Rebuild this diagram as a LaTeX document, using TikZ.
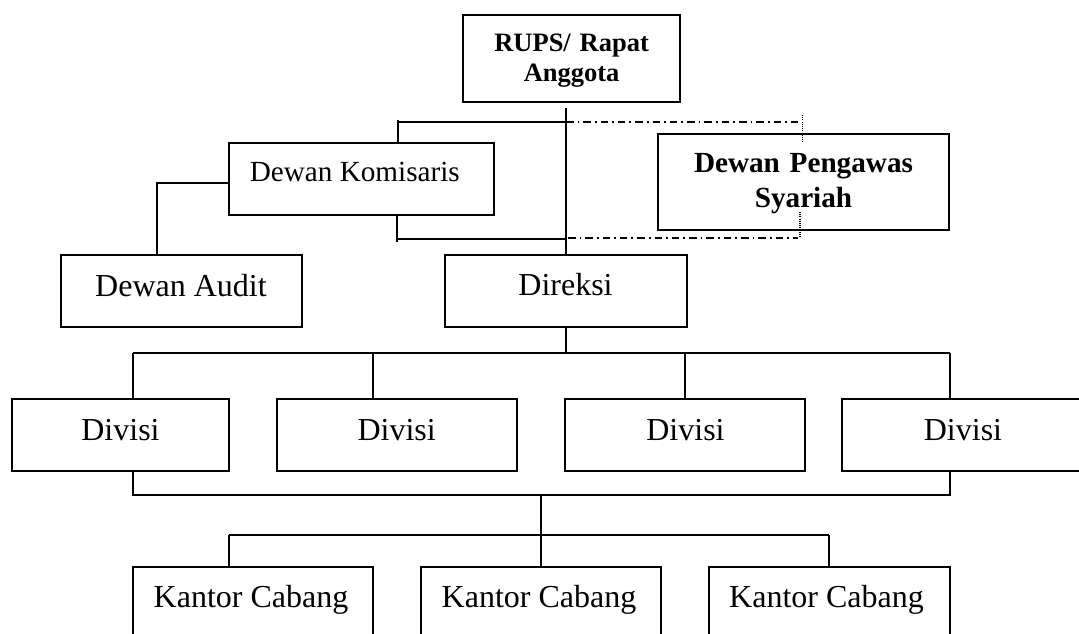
\documentclass[tikz,border=0pt]{standalone}
\usepackage{fontspec}
\setmainfont{Liberation Serif}
\begin{document}
\begin{tikzpicture}[x=1pt,y=-1pt,
  box/.style={draw=black,line width=2pt,rectangle,inner sep=0pt,outer sep=0pt},
  lbl/.style={anchor=base,inner sep=0pt,font=\fontsize{32}{38}\selectfont},
  conn/.style={draw=black,line width=2pt},
  dashdot/.style={draw=black,line width=1.3pt,dash pattern=on 7.5pt off 4pt on 1.8pt off 4pt},
  dotline/.style={draw=black,line width=1.2pt,dash pattern=on 1pt off 1.2pt}]
\fill[white] (0,0) rectangle (1079,634);
\clip (0,0) rectangle (1079,634);
% boxes
\node[box,minimum width=217pt,minimum height=87pt] (rups) at (571.5,58.5) {};
\node[box,minimum width=265pt,minimum height=72pt] (kom) at (361.5,179) {};
\node[box,minimum width=291pt,minimum height=96pt] (dps) at (803.5,182) {};
\node[box,minimum width=241pt,minimum height=72pt] (audit) at (181.5,291) {};
\node[box,minimum width=242pt,minimum height=72pt] (dir) at (566,291) {};
\node[box,minimum width=217pt,minimum height=72pt] (div1) at (120.5,435) {};
\node[box,minimum width=240pt,minimum height=72pt] (div2) at (397,435) {};
\node[box,minimum width=240pt,minimum height=72pt] (div3) at (685,435) {};
\node[box,minimum width=240pt,minimum height=72pt] (div4) at (962,435) {};
\node[box,minimum width=240pt,minimum height=72pt] (kc1) at (253,603) {};
\node[box,minimum width=240pt,minimum height=72pt] (kc2) at (541,603) {};
\node[box,minimum width=241pt,minimum height=72pt] (kc3) at (829.5,603) {};
% texts
\node[lbl,font=\fontsize{26.5}{30}\selectfont\bfseries,text width=210pt,align=center] (rupst) at (571.6,52) {RUPS/ Rapat\\Anggota};
\node[lbl,font=\fontsize{29.2}{35}\selectfont\bfseries,text width=285pt,align=center] (dpst) at (803.5,172) {Dewan Pengawas\\Syariah};
\node[lbl,font=\fontsize{29.2}{34}\selectfont] (komt) at (354.8,181) {Dewan Komisaris};
\node[lbl] (auditt) at (181,296) {Dewan Audit};
\node[lbl] (dirt) at (565.5,295) {Direksi};
\node[lbl] (div1t) at (120.5,440) {Divisi};
\node[lbl] (div2t) at (396.7,440) {Divisi};
\node[lbl] (div3t) at (685.5,440) {Divisi};
\node[lbl] (div4t) at (963,440) {Divisi};
\node[lbl] (kc1t) at (251,607) {Kantor Cabang};
\node[lbl] (kc2t) at (539,607) {Kantor Cabang};
\node[lbl] (kc3t) at (826.5,607) {Kantor Cabang};
% coordinates
\coordinate (rupsfoot) at (566,108);
\coordinate (topj) at (566,122);
\coordinate (botj) at (566,239);
\coordinate (dpstop) at (802.5,115);
\coordinate (dpsbot) at (800,212);
% RUPS -> Direksi
\draw[conn] (rupsfoot) -- (dir.north -| rupsfoot);
% top bracket to Komisaris
\draw[conn] (398,0 |- kom.north) -- (398,120);
\draw[conn] (398,122) -- (topj);
% bottom bracket from Komisaris
\draw[conn] (397,0 |- kom.south) -- (397,242);
\draw[conn] (397,239) -- (botj);
% dash-dot to Dewan Pengawas Syariah
\draw[dashdot] (topj) -- (801,122);
\draw[dotline] (dpstop) -- (802.5,142);
\draw[dashdot] (568,238) -- (798,238);
\draw[dotline] (dpsbot) -- (800,237);
% Komisaris -> Dewan Audit
\draw[conn] (157,0 |- audit.north) -- (157,183) -- (kom.west |- 0,183);
% Direksi -> Divisi
\draw[conn] (dir.south) -- (dir.south |- 0,353);
\draw[conn] (133,353) -- (950,353);
\draw[conn] (133,353) -- (133,0 |- div1.north);
\draw[conn] (373,353) -- (373,0 |- div2.north);
\draw[conn] (685,353) -- (div3.north);
\draw[conn] (950,353) -- (950,0 |- div4.north);
% Divisi -> Kantor Cabang
\draw[conn] (133,0 |- div1.south) -- (133,495) -- (950,495) -- (950,0 |- div4.south);
\draw[conn] (541,495) -- (kc2.north);
\draw[conn] (229,535) -- (829,535);
\draw[conn] (229,535) -- (229,0 |- kc1.north);
\draw[conn] (829,535) -- (829,0 |- kc3.north);
\end{tikzpicture}
\end{document}
